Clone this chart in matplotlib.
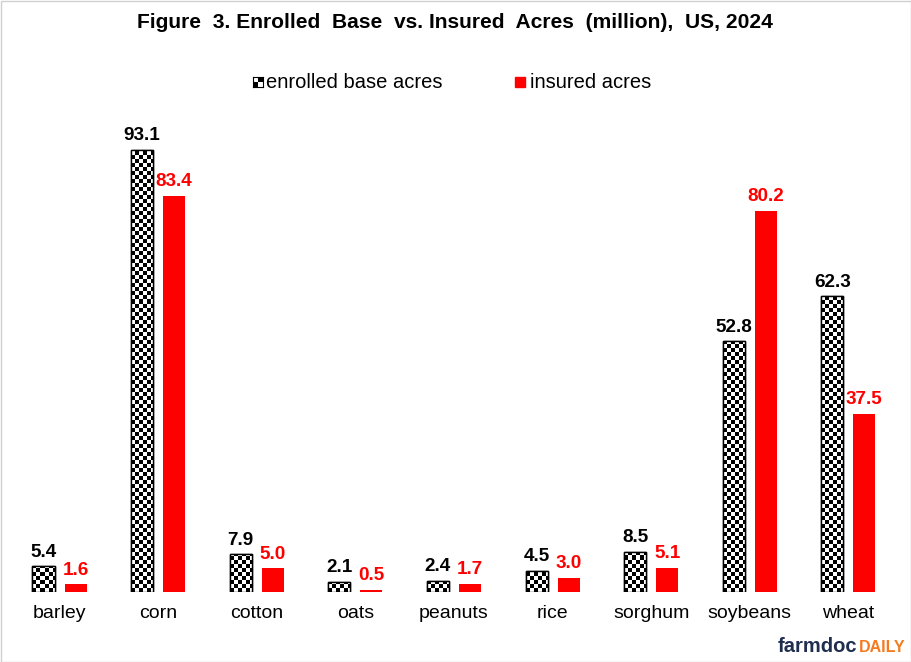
import numpy as np
import matplotlib
matplotlib.use("Agg")
import matplotlib.pyplot as plt
from matplotlib.patches import Rectangle

crops = ["barley", "corn", "cotton", "oats", "peanuts", "rice", "sorghum", "soybeans", "wheat"]
base_acres = [5.4, 93.1, 7.9, 2.1, 2.4, 4.5, 8.5, 52.8, 62.3]
insured_acres = [1.6, 83.4, 5.0, 0.5, 1.7, 3.0, 5.1, 80.2, 37.5]

RED = "#ff0000"
plt.rcParams["font.family"] = ["Liberation Sans", "DejaVu Sans"]

W, H = 911, 662
fig = plt.figure(figsize=(W / 100, H / 100), dpi=100)
# axes in pixel terms: baseline at y=592, top at y=100
ax = fig.add_axes([0, (H - 592) / H, 1, (592 - 100) / H])
px_per_cat = 98.6
px_per_unit = 4.75
xlim = (-59.5 / px_per_cat, (W - 59.5) / px_per_cat)
ylim = (0, (592 - 100) / px_per_unit)
ax.axis("off")

x = np.arange(len(crops))
bw = 22 / px_per_cat
off = 16 / px_per_cat

b1 = ax.bar(x - off, base_acres, bw, color="white", edgecolor="black", lw=1, zorder=2)
b2 = ax.bar(x + off, insured_acres, bw, color=RED, edgecolor="none", zorder=2)

# checkerboard fill clipped to each base bar
cell_x = 4 / px_per_cat
cell_y = 4 / px_per_unit
for rect in b1:
    x0, w, h = rect.get_x(), rect.get_width(), rect.get_height()
    nx = int(np.ceil(w / cell_x)) + 1
    ny = int(np.ceil(h / cell_y)) + 1
    chk = (np.add.outer(np.arange(ny), np.arange(nx)) % 2).astype(float)
    im = ax.imshow(chk, cmap="gray", interpolation="nearest", origin="lower",
                   extent=(x0, x0 + nx * cell_x, 0, ny * cell_y), aspect="auto", zorder=2.5)
    im.set_clip_path(rect)
    ax.add_patch(Rectangle((x0, 0), w, h, fill=False, ec="black", lw=1, zorder=3))
ax.set_xlim(*xlim)
ax.set_ylim(*ylim)

for xi, v in zip(x, base_acres):
    ax.annotate(f"{v:.1f}", (xi - off, v), xytext=(0, 4), textcoords="offset points",
                ha="center", va="bottom", fontsize=13.6, fontweight="bold", color="black")
for xi, v in zip(x, insured_acres):
    ax.annotate(f"{v:.1f}", (xi + off, v), xytext=(0, 4), textcoords="offset points",
                ha="center", va="bottom", fontsize=13.6, fontweight="bold", color=RED)
for xi, c in zip(x, crops):
    ax.text(xi, -21 / px_per_unit, c, ha="center", va="center", fontsize=14, color="black")

fig.text(455 / W, 1 - 23 / H, "Figure  3. Enrolled  Base  vs. Insured  Acres  (million),  US, 2024",
         ha="center", va="center", fontsize=15.1, fontweight="bold")

# legend
chk_leg = np.array([[1, 0], [0, 1]], dtype=float)
lax = fig.add_axes([253 / W, 1 - 87 / H, 10 / W, 10 / H])
lax.imshow(chk_leg, cmap="gray", interpolation="nearest", aspect="auto")
lax.set_xticks([]); lax.set_yticks([])
for s in lax.spines.values():
    s.set_linewidth(0.8)
fig.text(266 / W, 1 - 82 / H, "enrolled base acres", ha="left", va="center", fontsize=14.5)
fig.patches.append(Rectangle((515 / W, 1 - 87 / H), 10 / W, 10 / H, transform=fig.transFigure,
                             color=RED, figure=fig))
fig.text(530 / W, 1 - 82 / H, "insured acres", ha="left", va="center", fontsize=14.5)

# logo
t = fig.text(778 / W, 1 - 646 / H, "farmdoc", ha="left", va="center", fontsize=14.5,
             fontweight="bold", color="#1f2d4e")
fig.canvas.draw()
bb = t.get_window_extent()
fig.text(bb.x1 / W + 1 / W, 1 - 648 / H, "DAILY", ha="left", va="center", fontsize=11.5,
         fontweight="bold", color="#f47b20")

# border
fig.patches.append(Rectangle((0.5 / W, 0.5 / H), 1 - 1 / W, 1 - 1 / H, transform=fig.transFigure,
                             fill=False, ec="#d0d0d0", lw=1, figure=fig))

fig.savefig("out.png", dpi=100)
